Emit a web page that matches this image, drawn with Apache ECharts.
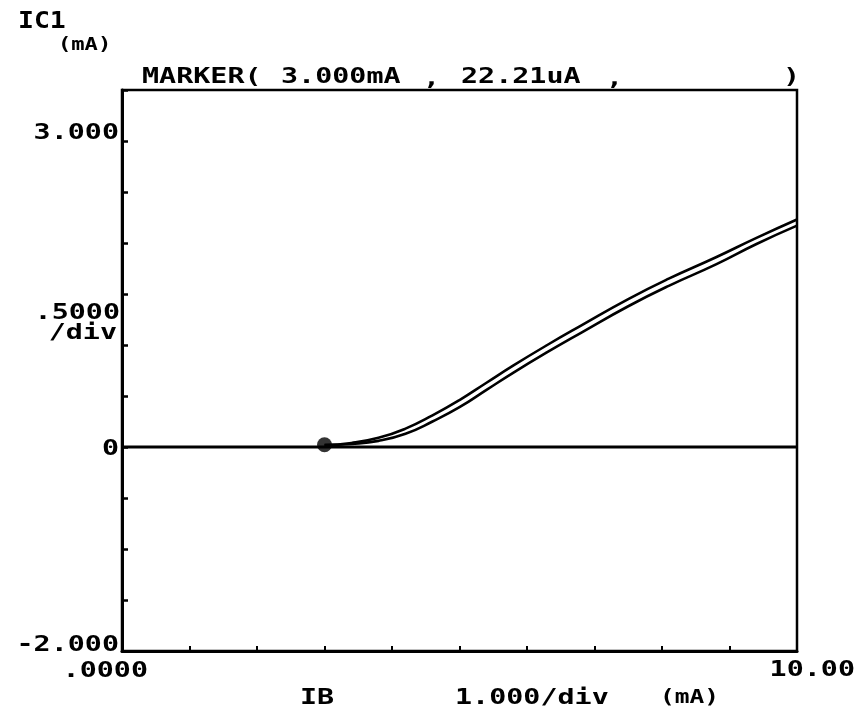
<!DOCTYPE html>
<html>
<head>
<meta charset="utf-8">
<script src="https://cdn.jsdelivr.net/npm/echarts@6/dist/echarts.min.js"></script>
<style>
html,body{margin:0;padding:0;background:#fff;}
#c{width:860px;height:710px;}
</style>
</head>
<body>
<div id="c"></div>
<script>
// ---- data (mA) ----
const ibUpper = [3.0, 3.4, 3.8, 4.2, 4.6, 5.0, 5.4, 5.8, 6.3, 6.8, 7.5, 8.1, 8.8, 9.4, 10.0];
const icUpper = [0.02, 0.04, 0.09, 0.18, 0.31, 0.46, 0.63, 0.80, 1.00, 1.19, 1.45, 1.65, 1.86, 2.05, 2.23];
const ibLower = [3.0, 3.4, 3.8, 4.2, 4.6, 5.0, 5.4, 5.8, 6.3, 6.8, 7.5, 8.1, 8.8, 9.4, 10.0];
const icLower = [0.02, 0.03, 0.06, 0.13, 0.25, 0.39, 0.56, 0.73, 0.93, 1.12, 1.38, 1.58, 1.79, 1.99, 2.17];
const zeroLineX = [0, 10];
const zeroLineY = [0, 0];
const markerPoint = [3.0, 0.02221];
const xTickLabels = [{v: 0, t: '.0000'}, {v: 10, t: '10.00'}];
const yTickLabels = [{v: 3, t: '3.000'}, {v: 0, t: '0'}, {v: -2, t: '-2.000'}];
const xMin = 0, xMax = 10, xInterval = 1;
const yMin = -2, yMax = 3.5, yInterval = 0.5;

const FONT = 'DejaVu Sans Mono';
const pair = (xs, ys) => xs.map((x, i) => [x, ys[i]]);

const chart = echarts.init(document.getElementById('c'), null, {renderer: 'canvas'});

const lineStyle = {color: '#000', width: 2.6};

chart.setOption({
  animation: false,
  backgroundColor: '#fff',
  grid: {left: 122, right: 63, top: 90, bottom: 59, show: true, borderColor: '#000', borderWidth: 2.5, backgroundColor: 'transparent'},
  xAxis: {
    type: 'value', min: xMin, max: xMax, interval: xInterval,
    axisLine: {show: true, onZero: false, lineStyle: {color: '#000', width: 3}},
    axisTick: {show: true, inside: true, length: 5, lineStyle: {color: '#000', width: 2}},
    axisLabel: {show: false},
    splitLine: {show: false}
  },
  yAxis: {
    type: 'value', min: yMin, max: yMax, interval: yInterval,
    axisLine: {show: true, onZero: false, lineStyle: {color: '#000', width: 3}},
    axisTick: {show: true, inside: true, length: 6, lineStyle: {color: '#000', width: 2.5}},
    axisLabel: {show: false},
    splitLine: {show: false}
  },
  series: [
    {type: 'line', data: pair(zeroLineX, zeroLineY), symbol: 'none', lineStyle: {color: '#000', width: 3}, silent: true},
    {type: 'line', data: pair(ibUpper, icUpper), symbol: 'none', smooth: 0.5, lineStyle: lineStyle},
    {type: 'line', data: pair(ibLower, icLower), symbol: 'none', smooth: 0.5, lineStyle: lineStyle},
    {type: 'scatter', data: [markerPoint], symbol: 'circle', symbolSize: 15, itemStyle: {color: '#000'}, z: 5}
  ]
});

const SX = 1.29;
function txt(x, y, text, size, align, sx) {
  return {
    type: 'text', x: x, y: y, scaleX: sx || SX, silent: true,
    style: {text: text, font: 'bold ' + size + 'px "' + FONT + '"', fill: '#000', align: align || 'left', verticalAlign: 'middle'}
  };
}

const g = [];
yTickLabels.forEach(l => {
  const p = chart.convertToPixel({gridIndex: 0}, [xMin, l.v]);
  let dy = 0;
  if (l.v === 3) dy = -8;
  if (l.v === -2) dy = -6;
  if (l.v === 0) dy = 2;
  g.push(txt(p[0] - 3, p[1] + dy, l.t, 22, 'right'));
});
xTickLabels.forEach(l => {
  const p = chart.convertToPixel({gridIndex: 0}, [l.v, yMin]);
  if (l.v === 0) g.push(txt(p[0] + 26, p[1] + 20, l.t, 22, 'right'));
  else g.push(txt(p[0] + 58, p[1] + 19, l.t, 22, 'right'));
});
// axis annotations
g.push(txt(120, 313, '.5000', 22, 'right'));
g.push(txt(117, 333, '/div', 22, 'right'));
g.push(txt(300, 698, 'IB', 22, 'left'));
g.push(txt(455, 698, '1.000/div', 22, 'left'));
g.push(txt(660, 698, '(mA)', 19, 'left'));
g.push(txt(18, 22, 'IC1', 23, 'left', 1.15));
g.push(txt(58, 46, '(mA)', 17, 'left', 1.3));
// marker readout
g.push(txt(142, 77, 'MARKER(', 22, 'left'));
g.push(txt(281, 77, '3.000mA', 22, 'left'));
g.push(txt(423, 79, ',', 22, 'left'));
g.push(txt(461, 77, '22.21uA', 22, 'left'));
g.push(txt(606, 79, ',', 22, 'left'));
g.push(txt(783, 77, ')', 22, 'left'));

chart.setOption({graphic: g});
</script>
</body>
</html>
